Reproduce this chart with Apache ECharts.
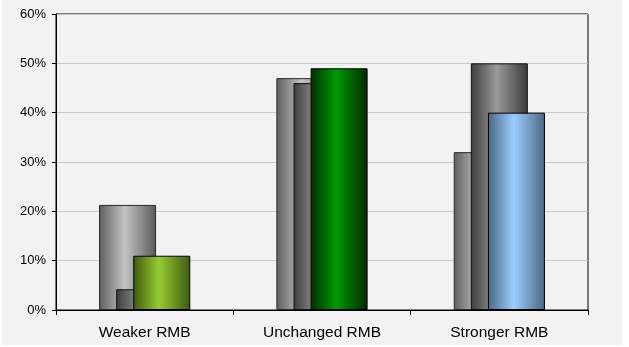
<!DOCTYPE html>
<html>
<head>
<meta charset="utf-8">
<script src="https://cdn.jsdelivr.net/npm/echarts@6/dist/echarts.min.js"></script>
<style>
  html, body { margin: 0; padding: 0; background: #ffffff; }
  #panel { position: absolute; left: 2px; top: 0; width: 620px; height: 345px; background: #f2f2f2; }
  #chart { position: absolute; left: 0; top: 0; width: 629px; height: 347px; }
</style>
</head>
<body>
<div id="panel"></div>
<div id="chart"></div>
<script>
// Outlook for the RMB: three overlapping survey bars per scenario
const categories = ['Weaker RMB', 'Unchanged RMB', 'Stronger RMB'];
const backValues = [21.3, 47, 32];
const middleValues = [4.2, 46, 50];
const frontValues = [11, 49, 40];
const yTicks = [0, 10, 20, 30, 40, 50, 60];

// horizontal "cylinder" shading: dark edges, bright centre
function shade(edge, light, edge2) {
  return new echarts.graphic.LinearGradient(0, 0, 1, 0, [
    { offset: 0, color: edge },
    { offset: 0.45, color: light },
    { offset: 1, color: edge2 || edge }
  ]);
}

const frontColours = [
  shade('#3d5a0e', '#96cc30', '#3f5a12'),
  shade('#003000', '#009a00', '#002800'),
  shade('#4a6684', '#9ccdff', '#4d6886')
];

const chart = echarts.init(document.getElementById('chart'), null, { renderer: 'canvas' });
chart.setOption({
  backgroundColor: 'transparent',
  animation: false,
  grid: {
    left: 56, right: 41, top: 14, bottom: 37,
    show: true, borderColor: '#000', borderWidth: 1, backgroundColor: 'transparent'
  },
  xAxis: {
    type: 'category',
    data: categories,
    axisLine: { lineStyle: { color: '#000', width: 1 } },
    axisTick: { show: true, alignWithLabel: false, length: 5, lineStyle: { color: '#000' } },
    axisLabel: { color: '#000', fontFamily: 'Liberation Sans, Arial, sans-serif', fontSize: 15.5, margin: 15 }
  },
  yAxis: {
    type: 'value',
    min: yTicks[0],
    max: yTicks[yTicks.length - 1],
    interval: 10,
    axisLine: { show: true, lineStyle: { color: '#000', width: 1 } },
    axisTick: { show: true, length: 4, lineStyle: { color: '#000' } },
    axisLabel: { color: '#000', fontFamily: 'Liberation Sans, Arial, sans-serif', fontSize: 13, margin: 10, formatter: '{value}%' },
    splitLine: { show: true, lineStyle: { color: '#c8c8c8', width: 1 } }
  },
  series: [
    {
      type: 'bar',
      data: backValues,
      barWidth: 57,
      barGap: '-70%',
      itemStyle: { color: shade('#5e5e5e', '#c4c4c4', '#5a5a5a'), borderColor: '#2a2a2a', borderWidth: 1 }
    },
    {
      type: 'bar',
      data: middleValues,
      barWidth: 57,
      barGap: '-70%',
      itemStyle: { color: shade('#3c3c3c', '#9a9a9a', '#3a3a3a'), borderColor: '#111', borderWidth: 1 }
    },
    {
      type: 'bar',
      data: frontValues.map((v, i) => ({ value: v, itemStyle: { color: frontColours[i] } })),
      barWidth: 57,
      barGap: '-70%',
      itemStyle: { borderColor: '#000', borderWidth: 1 }
    }
  ]
});
</script>
</body>
</html>
